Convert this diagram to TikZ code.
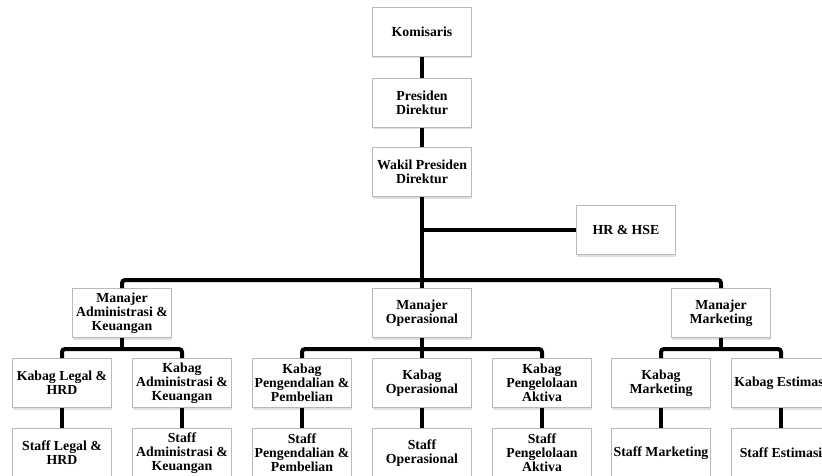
\documentclass[tikz,border=0pt]{standalone}
\usepackage{fontspec}
\setmainfont{Liberation Serif}
\usetikzlibrary{shadows}

\begin{document}
\begin{tikzpicture}[
    x=1pt, y=-1pt,
    unit/.style={draw=gray!55, line width=0.8pt, fill=white, align=center,
        minimum width=99pt, minimum height=49pt, inner sep=1pt,
        font=\bfseries\fontsize{13.8}{14}\selectfont,
        drop shadow={shadow xshift=0.6pt, shadow yshift=-2pt, opacity=0.35, fill=gray!70}},
    conn/.style={line width=4pt, black, rounded corners=3pt}
]
\useasboundingbox (0,0) rectangle (822,476);

% Top management
\node[unit] (kom) at (422,32) {Komisaris};
\node[unit] (pd)  at (422,103) {Presiden\\Direktur};
\node[unit] (wpd) at (422,172) {Wakil Presiden\\Direktur};
\node[unit] (hr)  at (626,230) {HR \& HSE};

% Managers
\node[unit] (ma) at (122,313) {Manajer\\Administrasi \&\\Keuangan};
\node[unit] (mo) at (422,313) {Manajer\\Operasional};
\node[unit] (mm) at (721,313) {Manajer\\Marketing};

% Kabag row
\node[unit] (kl)  at (62,383)  {Kabag Legal \&\\HRD};
\node[unit] (ka)  at (182,383) {Kabag\\Administrasi \&\\Keuangan};
\node[unit] (kp)  at (302,383) {Kabag\\Pengendalian \&\\Pembelian};
\node[unit] (ko)  at (422,383) {Kabag\\Operasional};
\node[unit] (kpa) at (542,383) {Kabag\\Pengelolaan\\Aktiva};
\node[unit] (kmk) at (661,383) {Kabag\\Marketing};
\node[unit] (ke)  at (781,383) {Kabag Estimasi};

% Staff row
\node[unit] (sl)  at (62,453)  {Staff Legal \&\\HRD};
\node[unit] (sa)  at (182,453) {Staff\\Administrasi \&\\Keuangan};
\node[unit] (sp)  at (302,453) {Staff\\Pengendalian \&\\Pembelian};
\node[unit] (so)  at (422,453) {Staff\\Operasional};
\node[unit] (spa) at (542,453) {Staff\\Pengelolaan\\Aktiva};
\node[unit] (smk) at (661,453) {Staff Marketing};
\node[unit] (se)  at (781,453) {Staff Estimasi};

% Bus coordinates
\coordinate (topbus) at (422,280);
\coordinate (hrjoin) at (wpd.south |- hr.west);
\coordinate (busA) at (122,349);
\coordinate (busO) at (422,349);
\coordinate (busM) at (721,349);

% Connectors
\draw[conn] (kom.south) -- (pd.north);
\draw[conn] (pd.south) -- (wpd.north);
\draw[conn] (wpd.south) -- (mo.north);
\draw[conn] (hrjoin) -- (hr.west);
\draw[conn] (ma.north) |- (topbus) -| (mm.north);

\draw[conn] (ma.south) -- (busA);
\draw[conn] (kl.north) |- (busA) -| (ka.north);
\draw[conn] (mo.south) -- (ko.north);
\draw[conn] (kp.north) |- (busO) -| (kpa.north);
\draw[conn] (mm.south) -- (busM);
\draw[conn] (kmk.north) |- (busM) -| (ke.north);

\foreach \k/\s in {kl/sl, ka/sa, kp/sp, ko/so, kpa/spa, kmk/smk, ke/se}
    \draw[conn] (\k.south) -- (\s.north);

\end{tikzpicture}
\end{document}
